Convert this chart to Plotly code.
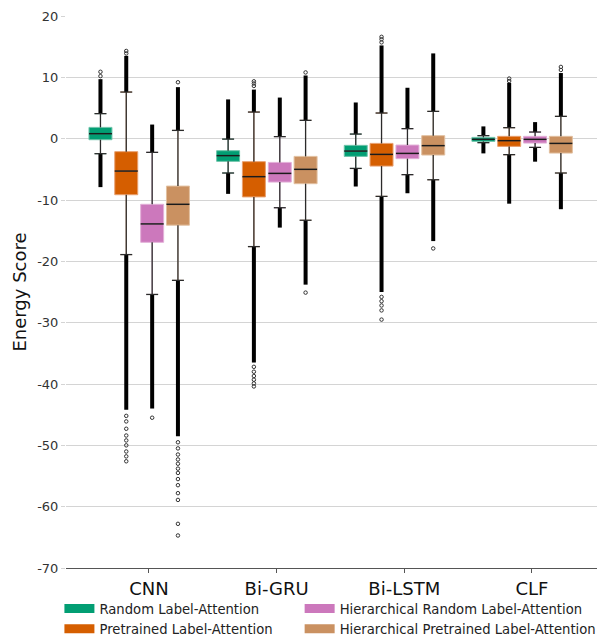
import plotly.graph_objects as go

models = ["CNN", "Bi-GRU", "Bi-LSTM", "CLF"]
series_names = ["Random Label-Attention", "Pretrained Label-Attention",
                "Hierarchical Random Label-Attention", "Hierarchical Pretrained Label-Attention"]
colors = ["#029e73", "#d55e00", "#cc78bc", "#ca9161"]
edge_colors = ["#6fc4aa", "#e8a070", "#e2b0d8", "#e2c0a0"]
legend_ids = ["legend", "legend", "legend2", "legend2"]

ytick_vals = [20, 10, 0, -10, -20, -30, -40, -50, -60, -70]
ytick_labels = ["20", "10", "0", "-10", "-20", "-30", "-40", "-50", "-60", "-70"]

# Random Label-Attention
rla_q1 = [-0.17, -3.70, -2.89, -0.44]
rla_med = [0.81, -2.77, -2.02, -0.11]
rla_q3 = [1.84, -1.96, -1.09, 0.21]
rla_lo = [-2.45, -5.6, -4.85, -0.65]
rla_hi = [4.08, -0.07, 0.75, 0.49]
rla_out_lo = [-7.9, -9.0, -7.8, -2.4]
rla_out_hi = [9.7, 6.4, 5.9, 2.0]
rla_extra = [[10.2, 10.9], [], [], []]

# Pretrained Label-Attention
pla_q1 = [-9.14, -9.5, -4.47, -1.26]
pla_med = [-5.28, -6.2, -2.56, -0.33]
pla_q3 = [-2.12, -3.75, -0.77, 0.38]
pla_lo = [-18.9, -17.6, -9.41, -2.61]
pla_hi = [7.6, 4.34, 4.18, 1.79]
pla_out_lo = [-44.2, -36.5, -25.0, -10.6]
pla_out_hi = [13.5, 8.0, 15.2, 9.1]
pla_extra = [[13.9, 14.3, -45.2, -46.1, -47.3, -48.4, -49.2, -50.0, -51.0, -51.8, -52.6],
             [8.6, 9.0, 9.35, -37.2, -38.0, -38.7, -39.3, -39.9, -40.4],
             [15.7, 16.2, 16.6, -25.8, -26.5, -27.2, -28.0, -29.5],
             [9.4, 9.8]]

# Hierarchical Random Label-Attention
hrla_q1 = [-16.9, -7.08, -3.26, -0.72]
hrla_med = [-13.9, -5.66, -2.4, -0.11]
hrla_q3 = [-10.7, -3.87, -1.04, 0.38]
hrla_lo = [-25.4, -11.26, -5.87, -1.42]
hrla_hi = [-2.23, 0.33, 1.63, 1.08]
hrla_out_lo = [-44.0, -14.5, -8.9, -3.75]
hrla_out_hi = [2.3, 6.7, 8.3, 2.7]
hrla_extra = [[-45.5], [], [], []]

# Hierarchical Pretrained Label-Attention
hpla_q1 = [-14.1, -7.34, -2.67, -2.35]
hpla_med = [-10.7, -5.0, -1.14, -0.77]
hpla_q3 = [-7.73, -2.89, 0.49, 0.38]
hpla_lo = [-23.1, -13.3, -6.7, -5.6]
hpla_hi = [1.35, 2.99, 4.45, 3.64]
hpla_out_lo = [-48.5, -23.8, -16.7, -11.5]
hpla_out_hi = [8.4, 10.3, 13.9, 10.7]
hpla_extra = [[9.2, -49.5, -50.5, -51.5, -52.3, -53.0, -53.8, -54.5, -55.5, -56.5, -57.8, -58.9, -62.8, -64.7],
              [10.8, -25.1], [-17.9], [11.2, 11.7]]

series = [
    (rla_q1, rla_med, rla_q3, rla_lo, rla_hi, rla_out_lo, rla_out_hi, rla_extra),
    (pla_q1, pla_med, pla_q3, pla_lo, pla_hi, pla_out_lo, pla_out_hi, pla_extra),
    (hrla_q1, hrla_med, hrla_q3, hrla_lo, hrla_hi, hrla_out_lo, hrla_out_hi, hrla_extra),
    (hpla_q1, hpla_med, hpla_q3, hpla_lo, hpla_hi, hpla_out_lo, hpla_out_hi, hpla_extra),
]

offsets = [-0.38, -0.178, 0.025, 0.227]
box_w = 0.18
cap_half = 0.047

fig = go.Figure()

band_x, band_y = [], []
wh_x, wh_y = [], []
med_x, med_y = [], []
ex_x, ex_y = [], []

for k, (q1, med, q3, lo, hi, olo, ohi, extra) in enumerate(series):
    xs = [i + offsets[k] for i in range(len(models))]
    fig.add_trace(go.Box(
        x=xs, q1=q1, median=med, q3=q3, lowerfence=lo, upperfence=hi,
        width=box_w, fillcolor=colors[k], line=dict(color=edge_colors[k], width=1),
        whiskerwidth=0.5, boxpoints=False, showlegend=False, hoverinfo="skip",
    ))
    for i, x in enumerate(xs):
        band_x += [x, x, None, x, x, None]
        band_y += [hi[i], ohi[i], None, lo[i], olo[i], None]
        wh_x += [x, x, None, x, x, None,
                 x - cap_half, x + cap_half, None, x - cap_half, x + cap_half, None]
        wh_y += [q3[i], hi[i], None, q1[i], lo[i], None,
                 hi[i], hi[i], None, lo[i], lo[i], None]
        med_x += [x - box_w / 2, x + box_w / 2, None]
        med_y += [med[i], med[i], None]
        for v in extra[i]:
            ex_x.append(x)
            ex_y.append(v)

fig.add_trace(go.Scatter(x=band_x, y=band_y, mode="lines", line=dict(color="black", width=4),
                         showlegend=False, hoverinfo="skip"))
fig.add_trace(go.Scatter(x=wh_x, y=wh_y, mode="lines", line=dict(color="#2b2b2b", width=1.3),
                         showlegend=False, hoverinfo="skip"))
fig.add_trace(go.Scatter(x=med_x, y=med_y, mode="lines", line=dict(color="#1a1a1a", width=1.5),
                         showlegend=False, hoverinfo="skip"))
fig.add_trace(go.Scatter(x=ex_x, y=ex_y, mode="markers",
                         marker=dict(symbol="circle-open", size=3.5, color="#333333", line=dict(width=1)),
                         showlegend=False, hoverinfo="skip"))

for k, name in enumerate(series_names):
    fig.add_trace(go.Scatter(x=[None], y=[None], mode="lines", name=name,
                             line=dict(color=colors[k], width=9), legend=legend_ids[k]))

legend_common = dict(orientation="v", xanchor="left", y=-0.046, yanchor="top",
                     font=dict(size=13.2, color="#222222"), traceorder="normal",
                     itemwidth=30, tracegroupgap=0, bgcolor="rgba(0,0,0,0)")

fig.update_layout(
    width=600, height=637,
    margin=dict(l=66, r=3, t=16, b=69, autoexpand=False),
    paper_bgcolor="white", plot_bgcolor="white",
    font=dict(family="DejaVu Sans", color="#262626"),
    xaxis=dict(range=[-0.65, 3.51], tickvals=list(range(len(models))), ticktext=models,
               showgrid=False, zeroline=False, showline=True, linecolor="#555555", linewidth=1,
               ticks="outside", ticklen=4, tickcolor="#555555",
               tickfont=dict(size=18, color="#111111")),
    yaxis=dict(range=[-70, 20], tickvals=ytick_vals, ticktext=ytick_labels,
               showgrid=True, gridcolor="#d4d4d4", gridwidth=1, zeroline=False, showline=False,
               ticks="outside", ticklen=4, tickcolor="#d4d4d4",
               tickfont=dict(size=13, color="#333333"),
               title=dict(text="Energy Score", font=dict(size=18, color="#111111"), standoff=5)),
    legend=dict(x=-0.0124, **legend_common),
    legend2=dict(x=0.44, **legend_common),
    showlegend=True,
)

fig.write_html("out.html", config={"displayModeBar": False},
               post_script="document.body.style.margin='0';")
